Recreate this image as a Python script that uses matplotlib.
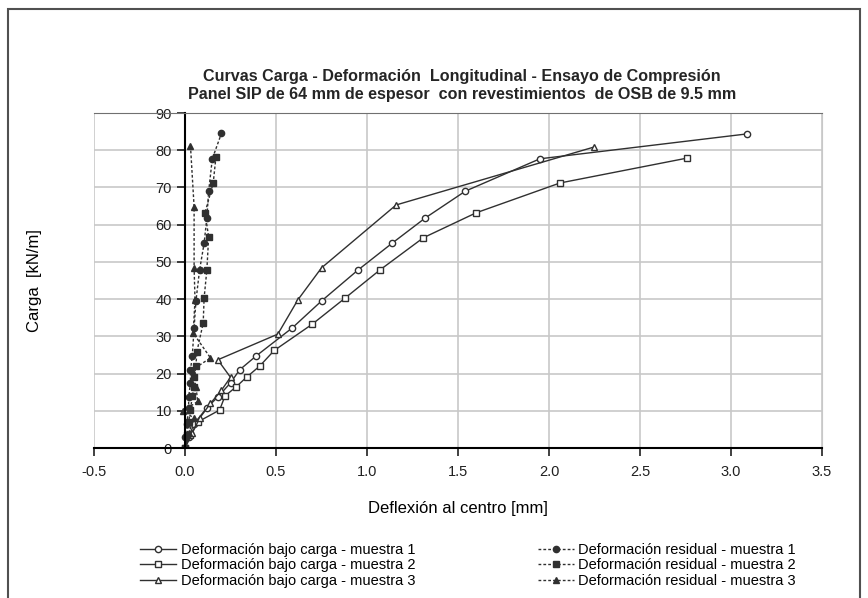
import matplotlib.pyplot as plt
from matplotlib.patches import Rectangle

plt.rcParams['font.family'] = ['Liberation Sans', 'DejaVu Sans']

# Deformación bajo carga
x_c1 = [0, 0.02, 0.05, 0.12, 0.18, 0.25, 0.30, 0.39, 0.59, 0.75, 0.95, 1.14, 1.32, 1.54, 1.95, 3.09]
y_c1 = [0, 3, 6.5, 10.8, 13.7, 17.5, 21.0, 24.7, 32.3, 39.5, 47.8, 55.1, 61.8, 69.0, 77.7, 84.4]
x_c2 = [0, 0.03, 0.07, 0.19, 0.22, 0.28, 0.34, 0.41, 0.49, 0.70, 0.88, 1.07, 1.31, 1.60, 2.06, 2.76]
y_c2 = [0, 3.5, 7, 10.2, 14, 16.4, 19.1, 22, 26.2, 33.3, 40.3, 47.8, 56.5, 63.2, 71.2, 77.9]
x_c3 = [0, 0.04, 0.08, 0.14, 0.20, 0.25, 0.18, 0.51, 0.62, 0.75, 1.16, 2.25]
y_c3 = [0, 4, 8, 12, 15.5, 19, 23.7, 30.6, 39.8, 48.4, 65.3, 80.9]

# Deformación residual
x_r1 = [0, 0.0, 0.01, 0.02, 0.02, 0.03, 0.03, 0.04, 0.05, 0.06, 0.08, 0.105, 0.12, 0.13, 0.15, 0.20]
y_r1 = [0, 3, 6.5, 10.8, 13.7, 17.5, 21.0, 24.7, 32.3, 39.5, 47.8, 55.0, 61.8, 69.0, 77.7, 84.5]
x_r2 = [0, 0.01, 0.02, 0.03, 0.04, 0.05, 0.05, 0.06, 0.065, 0.10, 0.105, 0.12, 0.13, 0.11, 0.155, 0.17]
y_r2 = [0, 3.5, 7, 10.2, 14, 16.4, 19.1, 22, 25.8, 33.6, 40.3, 47.8, 56.7, 63.2, 71.2, 78.2]
x_r3 = [0, 0.02, 0.05, -0.01, 0.07, 0.06, 0.04, 0.14, 0.045, 0.055, 0.05, 0.05, 0.03]
y_r3 = [0, 4, 8, 10, 12.5, 16.5, 21, 24.2, 30.9, 39.8, 48.4, 64.8, 81.2]

labels = ['Deformación bajo carga - muestra 1', 'Deformación bajo carga - muestra 2',
          'Deformación bajo carga - muestra 3', 'Deformación residual - muestra 1',
          'Deformación residual - muestra 2', 'Deformación residual - muestra 3']

fig = plt.figure(figsize=(8.68, 5.98), dpi=100)
fig.patches.append(Rectangle((0.009, -0.01), 0.982, 0.995, transform=fig.transFigure,
                             fill=False, edgecolor='#505050', linewidth=1.5))
ax = fig.add_axes([0.1083, 0.2508, 0.8387, 0.5602])

lc = '#303030'
ms = 4.5
ax.plot(x_c1, y_c1, '-', color=lc, lw=1, marker='o', ms=ms, mfc='white', mec=lc, label=labels[0])
ax.plot(x_c2, y_c2, '-', color=lc, lw=1, marker='s', ms=ms, mfc='white', mec=lc, label=labels[1])
ax.plot(x_c3, y_c3, '-', color=lc, lw=1, marker='^', ms=ms, mfc='white', mec=lc, label=labels[2])
ax.plot(x_r1, y_r1, '--', color=lc, lw=1, dashes=(2, 1.5), marker='o', ms=ms, mfc=lc, mec=lc, label=labels[3])
ax.plot(x_r2, y_r2, '--', color=lc, lw=1, dashes=(2, 1.5), marker='s', ms=ms, mfc=lc, mec=lc, label=labels[4])
ax.plot(x_r3, y_r3, '--', color=lc, lw=1, dashes=(2, 1.5), marker='^', ms=ms, mfc=lc, mec=lc, label=labels[5])

ax.set_xlim(-0.5, 3.5)
ax.set_ylim(0, 90)
ax.set_xticks([-0.5, 0, 0.5, 1, 1.5, 2, 2.5, 3, 3.5])
ax.set_xticklabels(['-0.5', '0.0', '0.5', '1.0', '1.5', '2.0', '2.5', '3.0', '3.5'])
ax.set_yticks(range(0, 91, 10))
ax.grid(True, color='#c8c8c8', lw=1.2)
ax.set_axisbelow(True)

ax.spines['left'].set_position(('data', 0))
ax.spines['left'].set_linewidth(1.5)
ax.spines['bottom'].set_linewidth(1.5)
ax.spines['top'].set_color('#707070')
ax.spines['right'].set_color('#c8c8c8')
ax.tick_params(direction='out', length=6, width=1.2, labelsize=10.5, colors='#202020')
ax.tick_params(axis='x', pad=6)

ax.set_xlabel('Deflexión al centro [mm]', fontsize=12, labelpad=16)
fig.text(0.04, 0.53, 'Carga  [kN/m]', rotation=90, fontsize=12, ha='center', va='center')

fig.text(0.532, 0.857, 'Curvas Carga - Deformación  Longitudinal - Ensayo de Compresión\n'
         'Panel SIP de 64 mm de espesor  con revestimientos  de OSB de 9.5 mm',
         ha='center', va='center', fontsize=11.6, fontweight='bold', linespacing=1.25, color='#252525')

h, l = ax.get_legend_handles_labels()
fig.legend(h, l, loc='lower center', bbox_to_anchor=(0.539, -0.005), ncol=2, frameon=False,
           fontsize=10.5, handlelength=2.5, columnspacing=8.4, labelspacing=0.1, handletextpad=0.3)

fig.savefig('out.png', dpi=100)
